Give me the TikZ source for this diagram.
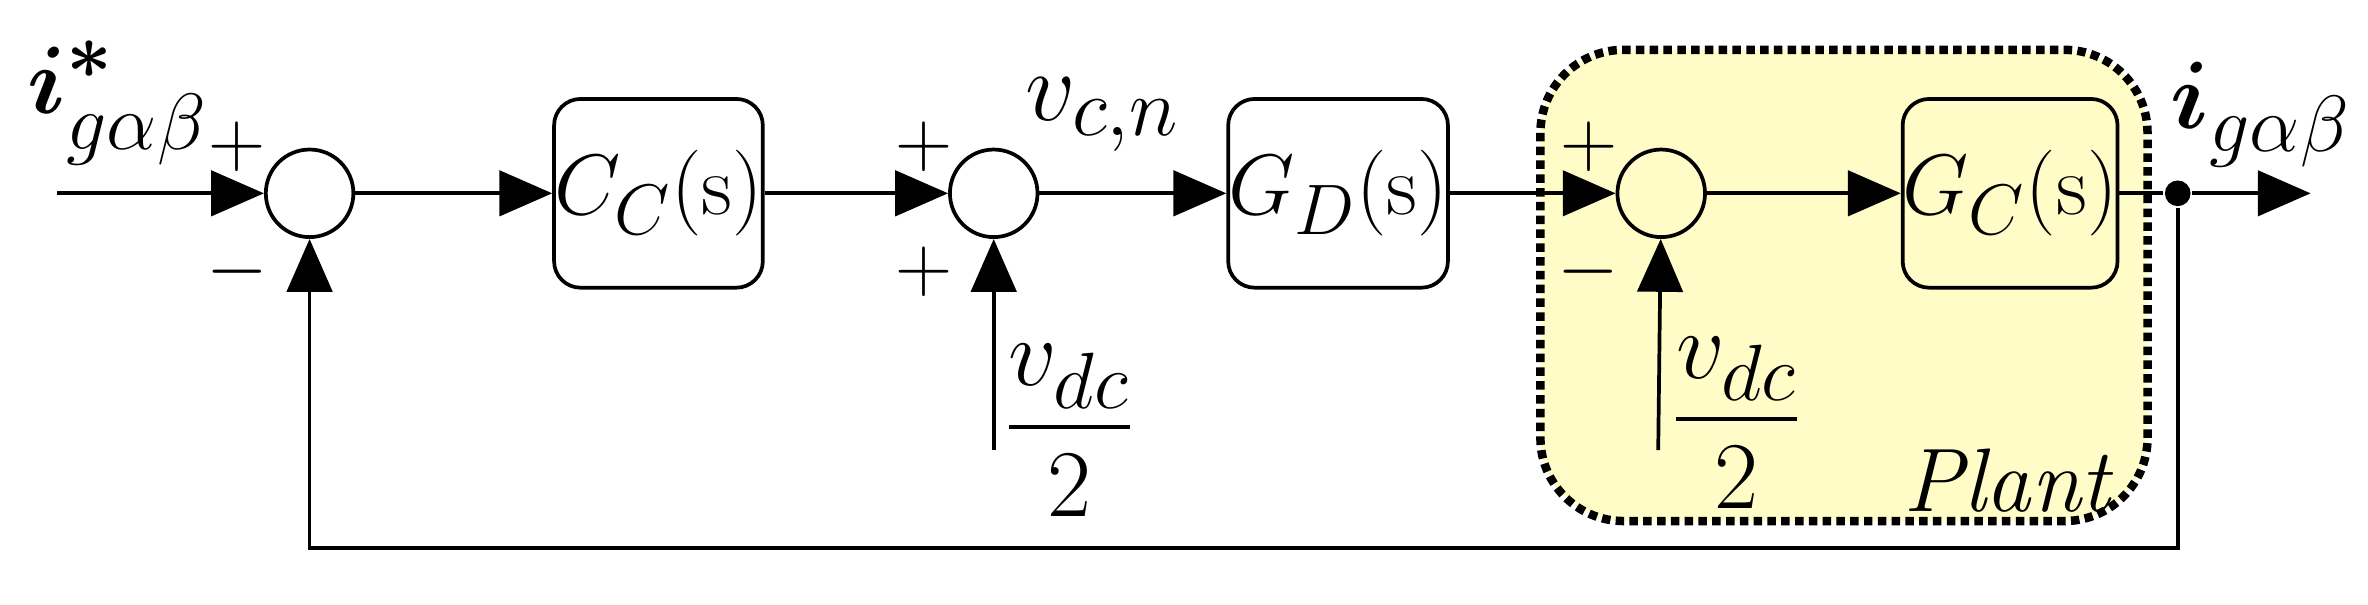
\documentclass[tikz,border=0pt]{standalone}
\usepackage{amsmath,bm,graphicx}
\usetikzlibrary{arrows.meta}
\begin{document}
\begin{tikzpicture}[x=0.02cm,y=-0.02cm,line width=1.4pt,
  arr/.style={-{Triangle[length=0.7cm,width=0.6cm]}},
  blk/.style={draw,rounded corners=0.35cm,minimum width=2.56cm,minimum height=2.5cm,inner sep=0pt,font=\fontsize{24.88}{30}\selectfont},
  sum/.style={draw,circle,minimum size=1.16cm,inner sep=0pt},
  sgn/.style={font=\fontsize{24.88}{30}\selectfont},
  lab/.style={font=\fontsize{34}{40}\selectfont}]
\useasboundingbox (0,0) rectangle (1568,400);
\draw[fill=yellow!22,line width=3.2pt,dotted,rounded corners=1.1cm] (1020,33) rectangle (1422,345);
\node[lab] (plant) at (1330,318) {\textit{Plant}};
\coordinate (in) at (38,128);
\node[sum] (s1) at (205,128) {};
\node[blk] (cc) at (436,128) {\scalebox{1.3}{$C_{C}(\mathrm{s})$}};
\node[sum] (s2) at (658,128) {};
\node[blk] (gd) at (886,128) {\scalebox{1.3}{$G_{D}(\mathrm{s})$}};
\node[sum] (s3) at (1100,128) {};
\node[blk,fill=yellow!22] (gc) at (1331,128) {\scalebox{1.3}{$G_{C}(\mathrm{s})$}};
\node[circle,fill,inner sep=0pt,minimum size=0.34cm] (dot) at (1442,128) {};
\coordinate (out) at (1530,128);
\coordinate (v1) at (658,298);
\coordinate (v2) at (1098,298);
\coordinate (fb) at (1442,363);
\coordinate (fb2) at (205,363);
\draw[arr] (in) -- (s1);
\draw[arr] (s1) -- (cc);
\draw[arr] (cc) -- (s2);
\draw[arr] (s2) -- (gd);
\draw[arr] (gd) -- (s3);
\draw[arr] (s3) -- (gc);
\draw (gc) -- (dot);
\draw[arr] (dot) -- (out);
\draw[arr] (dot) -- (fb) -- (fb2) -- (s1);
\draw[arr] (v1) -- (s2);
\draw[arr] (v2) -- (s3);
\node[sgn] (p1) at (157,97) {\scalebox{1.2}{$+$}};
\node[sgn] (m1) at (157,180) {\scalebox{1.2}{$-$}};
\node[sgn] (p2) at (612,97) {\scalebox{1.2}{$+$}};
\node[sgn] (p3) at (612,180) {\scalebox{1.2}{$+$}};
\node[sgn] (p4) at (1052,97) {\scalebox{1.2}{$+$}};
\node[sgn] (m4) at (1052,180) {\scalebox{1.2}{$-$}};
\node[font=\fontsize{24.88}{30}\selectfont] (iref) at (78,68) {\scalebox{1.45}{$\bm{i}^{\bm *}_{g\alpha\beta}$}};
\node[font=\fontsize{24.88}{30}\selectfont] (iout) at (1497,76) {\scalebox{1.45}{$\bm{i}_{g\alpha\beta}$}};
\node[font=\fontsize{24.88}{30}\selectfont] (vcn) at (730,76) {\scalebox{1.5}{$v_{c,n}$}};
\node[font=\fontsize{24.88}{30}\selectfont] (vd1) at (708,285) {\scalebox{1.45}{$\dfrac{v_{dc}}{2}$}};
\node[font=\fontsize{24.88}{30}\selectfont] (vd2) at (1150,280) {\scalebox{1.45}{$\dfrac{v_{dc}}{2}$}};
\end{tikzpicture}
\end{document}
